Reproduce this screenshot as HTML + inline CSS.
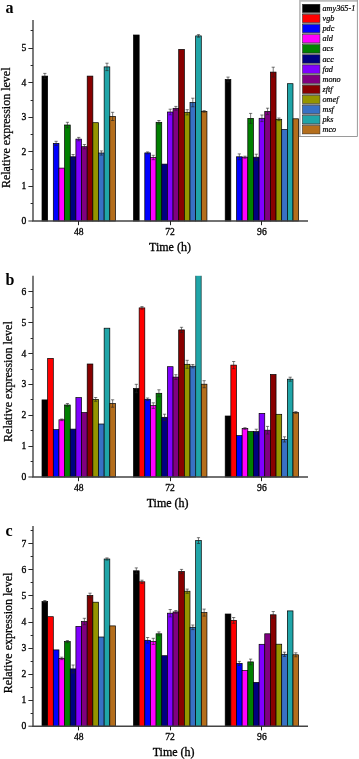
<!DOCTYPE html>
<html><head><meta charset="utf-8"><style>
html,body{margin:0;padding:0;background:#fff;width:359px;height:759px;overflow:hidden}
svg{display:block;will-change:transform}
.t{font-family:"Liberation Serif",serif;font-size:9.6px;fill:#000;stroke:#000;stroke-width:0.3}
.tt{font-family:"Liberation Serif",serif;font-size:12px;fill:#000;stroke:#000;stroke-width:0.3}
.yt{font-family:"Liberation Serif",serif;font-size:12px;fill:#000;stroke:#000;stroke-width:0.25}
.lt{font-family:"Liberation Serif",serif;font-size:16px;font-weight:bold;fill:#000}
.lg{font-family:"Liberation Serif",serif;font-size:8.2px;font-style:italic;fill:#000;stroke:#000;stroke-width:0.2}
</style></head><body>
<svg width="359" height="759" viewBox="0 0 359 759">
<rect width="359" height="759" fill="#fff"/>
<rect x="42.00" y="76.10" width="5.65" height="144.90" fill="#000000" stroke="#000" stroke-width="0.7"/>
<path d="M44.83 78.80V73.40M43.23 73.40H46.43M43.23 78.80H46.43" stroke="#222" stroke-width="0.6" fill="none"/>
<rect x="53.30" y="143.40" width="5.65" height="77.60" fill="#0000ff" stroke="#000" stroke-width="0.7"/>
<path d="M56.12 145.50V141.30M54.52 141.30H57.73M54.52 145.50H57.73" stroke="#222" stroke-width="0.6" fill="none"/>
<rect x="58.95" y="168.10" width="5.65" height="52.90" fill="#ff00ff" stroke="#000" stroke-width="0.7"/>
<rect x="64.60" y="125.00" width="5.65" height="96.00" fill="#008000" stroke="#000" stroke-width="0.7"/>
<path d="M67.42 127.70V122.30M65.83 122.30H69.02M65.83 127.70H69.02" stroke="#222" stroke-width="0.6" fill="none"/>
<rect x="70.25" y="156.80" width="5.65" height="64.20" fill="#000080" stroke="#000" stroke-width="0.7"/>
<path d="M73.08 159.10V154.50M71.48 154.50H74.67M71.48 159.10H74.67" stroke="#222" stroke-width="0.6" fill="none"/>
<rect x="75.90" y="139.10" width="5.65" height="81.90" fill="#8000ff" stroke="#000" stroke-width="0.7"/>
<path d="M78.73 140.80V137.40M77.13 137.40H80.33M77.13 140.80H80.33" stroke="#222" stroke-width="0.6" fill="none"/>
<rect x="81.55" y="146.70" width="5.65" height="74.30" fill="#800080" stroke="#000" stroke-width="0.7"/>
<path d="M84.38 148.90V144.50M82.78 144.50H85.98M82.78 148.90H85.98" stroke="#222" stroke-width="0.6" fill="none"/>
<rect x="87.20" y="76.10" width="5.65" height="144.90" fill="#880000" stroke="#000" stroke-width="0.7"/>
<rect x="92.85" y="122.70" width="5.65" height="98.30" fill="#959500" stroke="#000" stroke-width="0.7"/>
<rect x="98.50" y="153.00" width="5.65" height="68.00" fill="#3871c4" stroke="#000" stroke-width="0.7"/>
<path d="M101.33 155.10V150.90M99.73 150.90H102.92M99.73 155.10H102.92" stroke="#222" stroke-width="0.6" fill="none"/>
<rect x="104.15" y="66.90" width="5.65" height="154.10" fill="#20a5a8" stroke="#000" stroke-width="0.7"/>
<path d="M106.98 70.60V63.20M105.38 63.20H108.58M105.38 70.60H108.58" stroke="#222" stroke-width="0.6" fill="none"/>
<rect x="109.80" y="116.40" width="5.65" height="104.60" fill="#b46e1c" stroke="#000" stroke-width="0.7"/>
<path d="M112.63 120.50V112.30M111.03 112.30H114.23M111.03 120.50H114.23" stroke="#222" stroke-width="0.6" fill="none"/>
<rect x="133.50" y="35.00" width="5.65" height="186.00" fill="#000000" stroke="#000" stroke-width="0.7"/>
<rect x="144.80" y="152.90" width="5.65" height="68.10" fill="#0000ff" stroke="#000" stroke-width="0.7"/>
<path d="M147.62 153.90V151.90M146.03 151.90H149.22M146.03 153.90H149.22" stroke="#222" stroke-width="0.6" fill="none"/>
<rect x="150.45" y="157.50" width="5.65" height="63.50" fill="#ff00ff" stroke="#000" stroke-width="0.7"/>
<path d="M153.27 159.70V155.30M151.67 155.30H154.87M151.67 159.70H154.87" stroke="#222" stroke-width="0.6" fill="none"/>
<rect x="156.10" y="122.30" width="5.65" height="98.70" fill="#008000" stroke="#000" stroke-width="0.7"/>
<path d="M158.92 124.10V120.50M157.32 120.50H160.52M157.32 124.10H160.52" stroke="#222" stroke-width="0.6" fill="none"/>
<rect x="161.75" y="164.10" width="5.65" height="56.90" fill="#000080" stroke="#000" stroke-width="0.7"/>
<rect x="167.40" y="112.00" width="5.65" height="109.00" fill="#8000ff" stroke="#000" stroke-width="0.7"/>
<path d="M170.22 114.80V109.20M168.62 109.20H171.82M168.62 114.80H171.82" stroke="#222" stroke-width="0.6" fill="none"/>
<rect x="173.05" y="108.30" width="5.65" height="112.70" fill="#800080" stroke="#000" stroke-width="0.7"/>
<path d="M175.88 110.20V106.40M174.28 106.40H177.47M174.28 110.20H177.47" stroke="#222" stroke-width="0.6" fill="none"/>
<rect x="178.70" y="49.40" width="5.65" height="171.60" fill="#880000" stroke="#000" stroke-width="0.7"/>
<rect x="184.35" y="112.30" width="5.65" height="108.70" fill="#959500" stroke="#000" stroke-width="0.7"/>
<path d="M187.17 114.90V109.70M185.57 109.70H188.77M185.57 114.90H188.77" stroke="#222" stroke-width="0.6" fill="none"/>
<rect x="190.00" y="102.50" width="5.65" height="118.50" fill="#3871c4" stroke="#000" stroke-width="0.7"/>
<path d="M192.82 106.80V98.20M191.22 98.20H194.42M191.22 106.80H194.42" stroke="#222" stroke-width="0.6" fill="none"/>
<rect x="195.65" y="35.90" width="5.65" height="185.10" fill="#20a5a8" stroke="#000" stroke-width="0.7"/>
<path d="M198.47 37.20V34.60M196.88 34.60H200.07M196.88 37.20H200.07" stroke="#222" stroke-width="0.6" fill="none"/>
<rect x="201.30" y="111.40" width="5.65" height="109.60" fill="#b46e1c" stroke="#000" stroke-width="0.7"/>
<path d="M204.12 112.20V110.60M202.53 110.60H205.72M202.53 112.20H205.72" stroke="#222" stroke-width="0.6" fill="none"/>
<rect x="225.20" y="79.50" width="5.65" height="141.50" fill="#000000" stroke="#000" stroke-width="0.7"/>
<path d="M228.02 81.90V77.10M226.42 77.10H229.62M226.42 81.90H229.62" stroke="#222" stroke-width="0.6" fill="none"/>
<rect x="236.50" y="156.80" width="5.65" height="64.20" fill="#0000ff" stroke="#000" stroke-width="0.7"/>
<path d="M239.32 159.70V153.90M237.72 153.90H240.92M237.72 159.70H240.92" stroke="#222" stroke-width="0.6" fill="none"/>
<rect x="242.15" y="157.20" width="5.65" height="63.80" fill="#ff00ff" stroke="#000" stroke-width="0.7"/>
<path d="M244.97 158.20V156.20M243.37 156.20H246.57M243.37 158.20H246.57" stroke="#222" stroke-width="0.6" fill="none"/>
<rect x="247.80" y="118.40" width="5.65" height="102.60" fill="#008000" stroke="#000" stroke-width="0.7"/>
<path d="M250.62 123.40V113.40M249.02 113.40H252.22M249.02 123.40H252.22" stroke="#222" stroke-width="0.6" fill="none"/>
<rect x="253.45" y="157.20" width="5.65" height="63.80" fill="#000080" stroke="#000" stroke-width="0.7"/>
<path d="M256.27 160.20V154.20M254.67 154.20H257.88M254.67 160.20H257.88" stroke="#222" stroke-width="0.6" fill="none"/>
<rect x="259.10" y="118.30" width="5.65" height="102.70" fill="#8000ff" stroke="#000" stroke-width="0.7"/>
<path d="M261.93 121.60V115.00M260.32 115.00H263.53M260.32 121.60H263.53" stroke="#222" stroke-width="0.6" fill="none"/>
<rect x="264.75" y="111.40" width="5.65" height="109.60" fill="#800080" stroke="#000" stroke-width="0.7"/>
<path d="M267.57 114.60V108.20M265.97 108.20H269.18M265.97 114.60H269.18" stroke="#222" stroke-width="0.6" fill="none"/>
<rect x="270.40" y="72.10" width="5.65" height="148.90" fill="#880000" stroke="#000" stroke-width="0.7"/>
<path d="M273.22 77.00V67.20M271.62 67.20H274.82M271.62 77.00H274.82" stroke="#222" stroke-width="0.6" fill="none"/>
<rect x="276.05" y="119.30" width="5.65" height="101.70" fill="#959500" stroke="#000" stroke-width="0.7"/>
<path d="M278.88 120.60V118.00M277.27 118.00H280.48M277.27 120.60H280.48" stroke="#222" stroke-width="0.6" fill="none"/>
<rect x="281.70" y="129.40" width="5.65" height="91.60" fill="#3871c4" stroke="#000" stroke-width="0.7"/>
<rect x="287.35" y="83.70" width="5.65" height="137.30" fill="#20a5a8" stroke="#000" stroke-width="0.7"/>
<rect x="293.00" y="118.80" width="5.65" height="102.20" fill="#b46e1c" stroke="#000" stroke-width="0.7"/>
<path d="M33.0 20.0V221.0H308.0" stroke="#444" stroke-width="1.4" fill="none"/>
<path d="M28.4 221.00H33.0" stroke="#2a2a2a" stroke-width="1"/>
<text x="26.2" y="224.00" text-anchor="end" class="t">0</text>
<path d="M30.6 203.50H33.0" stroke="#2a2a2a" stroke-width="1"/>
<path d="M28.4 186.50H33.0" stroke="#2a2a2a" stroke-width="1"/>
<text x="26.2" y="189.44" text-anchor="end" class="t">1</text>
<path d="M30.6 169.50H33.0" stroke="#2a2a2a" stroke-width="1"/>
<path d="M28.4 151.50H33.0" stroke="#2a2a2a" stroke-width="1"/>
<text x="26.2" y="154.88" text-anchor="end" class="t">2</text>
<path d="M30.6 134.50H33.0" stroke="#2a2a2a" stroke-width="1"/>
<path d="M28.4 117.50H33.0" stroke="#2a2a2a" stroke-width="1"/>
<text x="26.2" y="120.32" text-anchor="end" class="t">3</text>
<path d="M30.6 100.50H33.0" stroke="#2a2a2a" stroke-width="1"/>
<path d="M28.4 82.50H33.0" stroke="#2a2a2a" stroke-width="1"/>
<text x="26.2" y="85.76" text-anchor="end" class="t">4</text>
<path d="M30.6 65.50H33.0" stroke="#2a2a2a" stroke-width="1"/>
<path d="M28.4 48.50H33.0" stroke="#2a2a2a" stroke-width="1"/>
<text x="26.2" y="51.20" text-anchor="end" class="t">5</text>
<path d="M30.6 30.50H33.0" stroke="#2a2a2a" stroke-width="1"/>
<path d="M78.5 221.0V225.2" stroke="#222" stroke-width="1"/>
<text x="78.7" y="235.00" text-anchor="middle" class="t">48</text>
<path d="M170.5 221.0V225.2" stroke="#222" stroke-width="1"/>
<text x="170.1" y="235.00" text-anchor="middle" class="t">72</text>
<path d="M261.5 221.0V225.2" stroke="#222" stroke-width="1"/>
<text x="261.9" y="235.00" text-anchor="middle" class="t">96</text>
<text x="170" y="251" text-anchor="middle" class="tt">Time (h)</text>
<text transform="translate(9.6 127.8) rotate(-90)" text-anchor="middle" class="yt">Relative expression level</text>
<text x="5.6" y="12.9" class="lt">a</text>
<rect x="42.00" y="399.90" width="5.65" height="77.10" fill="#000000" stroke="#000" stroke-width="0.7"/>
<rect x="47.65" y="358.40" width="5.65" height="118.60" fill="#ff0000" stroke="#000" stroke-width="0.7"/>
<rect x="53.30" y="429.60" width="5.65" height="47.40" fill="#0000ff" stroke="#000" stroke-width="0.7"/>
<rect x="58.95" y="419.80" width="5.65" height="57.20" fill="#ff00ff" stroke="#000" stroke-width="0.7"/>
<path d="M61.78 420.60V419.00M60.18 419.00H63.38M60.18 420.60H63.38" stroke="#222" stroke-width="0.6" fill="none"/>
<rect x="64.60" y="405.00" width="5.65" height="72.00" fill="#008000" stroke="#000" stroke-width="0.7"/>
<path d="M67.42 406.50V403.50M65.83 403.50H69.02M65.83 406.50H69.02" stroke="#222" stroke-width="0.6" fill="none"/>
<rect x="70.25" y="429.10" width="5.65" height="47.90" fill="#000080" stroke="#000" stroke-width="0.7"/>
<rect x="75.90" y="397.60" width="5.65" height="79.40" fill="#8000ff" stroke="#000" stroke-width="0.7"/>
<rect x="81.55" y="412.50" width="5.65" height="64.50" fill="#800080" stroke="#000" stroke-width="0.7"/>
<rect x="87.20" y="364.00" width="5.65" height="113.00" fill="#880000" stroke="#000" stroke-width="0.7"/>
<rect x="92.85" y="399.40" width="5.65" height="77.60" fill="#959500" stroke="#000" stroke-width="0.7"/>
<path d="M95.67 401.30V397.50M94.08 397.50H97.27M94.08 401.30H97.27" stroke="#222" stroke-width="0.6" fill="none"/>
<rect x="98.50" y="424.00" width="5.65" height="53.00" fill="#3871c4" stroke="#000" stroke-width="0.7"/>
<rect x="104.15" y="328.20" width="5.65" height="148.80" fill="#20a5a8" stroke="#000" stroke-width="0.7"/>
<rect x="109.80" y="403.50" width="5.65" height="73.50" fill="#b46e1c" stroke="#000" stroke-width="0.7"/>
<path d="M112.63 407.20V399.80M111.03 399.80H114.23M111.03 407.20H114.23" stroke="#222" stroke-width="0.6" fill="none"/>
<rect x="133.50" y="388.50" width="5.65" height="88.50" fill="#000000" stroke="#000" stroke-width="0.7"/>
<path d="M136.32 392.70V384.30M134.72 384.30H137.92M134.72 392.70H137.92" stroke="#222" stroke-width="0.6" fill="none"/>
<rect x="139.15" y="307.90" width="5.65" height="169.10" fill="#ff0000" stroke="#000" stroke-width="0.7"/>
<path d="M141.97 309.20V306.60M140.38 306.60H143.57M140.38 309.20H143.57" stroke="#222" stroke-width="0.6" fill="none"/>
<rect x="144.80" y="399.30" width="5.65" height="77.70" fill="#0000ff" stroke="#000" stroke-width="0.7"/>
<path d="M147.62 400.60V398.00M146.03 398.00H149.22M146.03 400.60H149.22" stroke="#222" stroke-width="0.6" fill="none"/>
<rect x="150.45" y="405.60" width="5.65" height="71.40" fill="#ff00ff" stroke="#000" stroke-width="0.7"/>
<path d="M153.27 408.40V402.80M151.67 402.80H154.87M151.67 408.40H154.87" stroke="#222" stroke-width="0.6" fill="none"/>
<rect x="156.10" y="393.30" width="5.65" height="83.70" fill="#008000" stroke="#000" stroke-width="0.7"/>
<path d="M158.92 396.80V389.80M157.32 389.80H160.52M157.32 396.80H160.52" stroke="#222" stroke-width="0.6" fill="none"/>
<rect x="161.75" y="417.30" width="5.65" height="59.70" fill="#000080" stroke="#000" stroke-width="0.7"/>
<path d="M164.57 420.40V414.20M162.97 414.20H166.17M162.97 420.40H166.17" stroke="#222" stroke-width="0.6" fill="none"/>
<rect x="167.40" y="366.70" width="5.65" height="110.30" fill="#8000ff" stroke="#000" stroke-width="0.7"/>
<rect x="173.05" y="377.10" width="5.65" height="99.90" fill="#800080" stroke="#000" stroke-width="0.7"/>
<path d="M175.88 379.50V374.70M174.28 374.70H177.47M174.28 379.50H177.47" stroke="#222" stroke-width="0.6" fill="none"/>
<rect x="178.70" y="329.90" width="5.65" height="147.10" fill="#880000" stroke="#000" stroke-width="0.7"/>
<path d="M181.52 332.50V327.30M179.92 327.30H183.12M179.92 332.50H183.12" stroke="#222" stroke-width="0.6" fill="none"/>
<rect x="184.35" y="364.30" width="5.65" height="112.70" fill="#959500" stroke="#000" stroke-width="0.7"/>
<path d="M187.17 368.30V360.30M185.57 360.30H188.77M185.57 368.30H188.77" stroke="#222" stroke-width="0.6" fill="none"/>
<rect x="190.00" y="366.20" width="5.65" height="110.80" fill="#3871c4" stroke="#000" stroke-width="0.7"/>
<path d="M192.82 367.90V364.50M191.22 364.50H194.42M191.22 367.90H194.42" stroke="#222" stroke-width="0.6" fill="none"/>
<rect x="195.65" y="275.80" width="5.65" height="201.20" fill="#20a5a8"/>
<path d="M195.65 275.80V477.0M201.30 275.80V477.0" stroke="#000" stroke-width="0.5"/>
<rect x="201.30" y="384.20" width="5.65" height="92.80" fill="#b46e1c" stroke="#000" stroke-width="0.7"/>
<path d="M204.12 387.70V380.70M202.53 380.70H205.72M202.53 387.70H205.72" stroke="#222" stroke-width="0.6" fill="none"/>
<rect x="225.20" y="416.00" width="5.65" height="61.00" fill="#000000" stroke="#000" stroke-width="0.7"/>
<rect x="230.85" y="365.10" width="5.65" height="111.90" fill="#ff0000" stroke="#000" stroke-width="0.7"/>
<path d="M233.67 368.70V361.50M232.07 361.50H235.27M232.07 368.70H235.27" stroke="#222" stroke-width="0.6" fill="none"/>
<rect x="236.50" y="435.60" width="5.65" height="41.40" fill="#0000ff" stroke="#000" stroke-width="0.7"/>
<rect x="242.15" y="428.50" width="5.65" height="48.50" fill="#ff00ff" stroke="#000" stroke-width="0.7"/>
<path d="M244.97 429.30V427.70M243.37 427.70H246.57M243.37 429.30H246.57" stroke="#222" stroke-width="0.6" fill="none"/>
<rect x="247.80" y="431.60" width="5.65" height="45.40" fill="#008000" stroke="#000" stroke-width="0.7"/>
<rect x="253.45" y="431.60" width="5.65" height="45.40" fill="#000080" stroke="#000" stroke-width="0.7"/>
<path d="M256.27 434.00V429.20M254.67 429.20H257.88M254.67 434.00H257.88" stroke="#222" stroke-width="0.6" fill="none"/>
<rect x="259.10" y="413.40" width="5.65" height="63.60" fill="#8000ff" stroke="#000" stroke-width="0.7"/>
<rect x="264.75" y="430.20" width="5.65" height="46.80" fill="#800080" stroke="#000" stroke-width="0.7"/>
<path d="M267.57 434.00V426.40M265.97 426.40H269.18M265.97 434.00H269.18" stroke="#222" stroke-width="0.6" fill="none"/>
<rect x="270.40" y="374.50" width="5.65" height="102.50" fill="#880000" stroke="#000" stroke-width="0.7"/>
<rect x="276.05" y="414.30" width="5.65" height="62.70" fill="#959500" stroke="#000" stroke-width="0.7"/>
<rect x="281.70" y="439.40" width="5.65" height="37.60" fill="#3871c4" stroke="#000" stroke-width="0.7"/>
<path d="M284.52 442.00V436.80M282.92 436.80H286.12M282.92 442.00H286.12" stroke="#222" stroke-width="0.6" fill="none"/>
<rect x="287.35" y="379.20" width="5.65" height="97.80" fill="#20a5a8" stroke="#000" stroke-width="0.7"/>
<path d="M290.18 381.20V377.20M288.57 377.20H291.78M288.57 381.20H291.78" stroke="#222" stroke-width="0.6" fill="none"/>
<rect x="293.00" y="412.50" width="5.65" height="64.50" fill="#b46e1c" stroke="#000" stroke-width="0.7"/>
<path d="M295.82 413.40V411.60M294.22 411.60H297.43M294.22 413.40H297.43" stroke="#222" stroke-width="0.6" fill="none"/>
<path d="M33.0 275.8V477.0H308.0" stroke="#444" stroke-width="1.4" fill="none"/>
<path d="M28.4 477.00H33.0" stroke="#2a2a2a" stroke-width="1"/>
<text x="26.2" y="480.00" text-anchor="end" class="t">0</text>
<path d="M30.6 461.50H33.0" stroke="#2a2a2a" stroke-width="1"/>
<path d="M28.4 446.50H33.0" stroke="#2a2a2a" stroke-width="1"/>
<text x="26.2" y="449.15" text-anchor="end" class="t">1</text>
<path d="M30.6 430.50H33.0" stroke="#2a2a2a" stroke-width="1"/>
<path d="M28.4 415.50H33.0" stroke="#2a2a2a" stroke-width="1"/>
<text x="26.2" y="418.30" text-anchor="end" class="t">2</text>
<path d="M30.6 399.50H33.0" stroke="#2a2a2a" stroke-width="1"/>
<path d="M28.4 384.50H33.0" stroke="#2a2a2a" stroke-width="1"/>
<text x="26.2" y="387.45" text-anchor="end" class="t">3</text>
<path d="M30.6 369.50H33.0" stroke="#2a2a2a" stroke-width="1"/>
<path d="M28.4 353.50H33.0" stroke="#2a2a2a" stroke-width="1"/>
<text x="26.2" y="356.60" text-anchor="end" class="t">4</text>
<path d="M30.6 338.50H33.0" stroke="#2a2a2a" stroke-width="1"/>
<path d="M28.4 322.50H33.0" stroke="#2a2a2a" stroke-width="1"/>
<text x="26.2" y="325.75" text-anchor="end" class="t">5</text>
<path d="M30.6 307.50H33.0" stroke="#2a2a2a" stroke-width="1"/>
<path d="M28.4 291.50H33.0" stroke="#2a2a2a" stroke-width="1"/>
<text x="26.2" y="294.90" text-anchor="end" class="t">6</text>
<path d="M78.5 477.0V481.2" stroke="#222" stroke-width="1"/>
<text x="78.7" y="491.00" text-anchor="middle" class="t">48</text>
<path d="M170.5 477.0V481.2" stroke="#222" stroke-width="1"/>
<text x="170.1" y="491.00" text-anchor="middle" class="t">72</text>
<path d="M261.5 477.0V481.2" stroke="#222" stroke-width="1"/>
<text x="261.9" y="491.00" text-anchor="middle" class="t">96</text>
<text x="167.6" y="507" text-anchor="middle" class="tt">Time (h)</text>
<text transform="translate(11.6 381.6) rotate(-90)" text-anchor="middle" class="yt">Relative expression level</text>
<text x="5.6" y="284.9" class="lt">b</text>
<rect x="42.00" y="601.60" width="5.65" height="124.60" fill="#000000" stroke="#000" stroke-width="0.7"/>
<path d="M44.83 602.70V600.50M43.23 600.50H46.43M43.23 602.70H46.43" stroke="#222" stroke-width="0.6" fill="none"/>
<rect x="47.65" y="616.70" width="5.65" height="109.50" fill="#ff0000" stroke="#000" stroke-width="0.7"/>
<rect x="53.30" y="649.90" width="5.65" height="76.30" fill="#0000ff" stroke="#000" stroke-width="0.7"/>
<rect x="58.95" y="658.40" width="5.65" height="67.80" fill="#ff00ff" stroke="#000" stroke-width="0.7"/>
<path d="M61.78 659.60V657.20M60.18 657.20H63.38M60.18 659.60H63.38" stroke="#222" stroke-width="0.6" fill="none"/>
<rect x="64.60" y="641.60" width="5.65" height="84.60" fill="#008000" stroke="#000" stroke-width="0.7"/>
<path d="M67.42 642.70V640.50M65.83 640.50H69.02M65.83 642.70H69.02" stroke="#222" stroke-width="0.6" fill="none"/>
<rect x="70.25" y="668.90" width="5.65" height="57.30" fill="#000080" stroke="#000" stroke-width="0.7"/>
<path d="M73.08 672.80V665.00M71.48 665.00H74.67M71.48 672.80H74.67" stroke="#222" stroke-width="0.6" fill="none"/>
<rect x="75.90" y="626.40" width="5.65" height="99.80" fill="#8000ff" stroke="#000" stroke-width="0.7"/>
<rect x="81.55" y="621.50" width="5.65" height="104.70" fill="#800080" stroke="#000" stroke-width="0.7"/>
<path d="M84.38 624.70V618.30M82.78 618.30H85.98M82.78 624.70H85.98" stroke="#222" stroke-width="0.6" fill="none"/>
<rect x="87.20" y="595.50" width="5.65" height="130.70" fill="#880000" stroke="#000" stroke-width="0.7"/>
<path d="M90.03 597.80V593.20M88.43 593.20H91.62M88.43 597.80H91.62" stroke="#222" stroke-width="0.6" fill="none"/>
<rect x="92.85" y="602.20" width="5.65" height="124.00" fill="#959500" stroke="#000" stroke-width="0.7"/>
<rect x="98.50" y="637.00" width="5.65" height="89.20" fill="#3871c4" stroke="#000" stroke-width="0.7"/>
<rect x="104.15" y="559.00" width="5.65" height="167.20" fill="#20a5a8" stroke="#000" stroke-width="0.7"/>
<path d="M106.98 560.10V557.90M105.38 557.90H108.58M105.38 560.10H108.58" stroke="#222" stroke-width="0.6" fill="none"/>
<rect x="109.80" y="625.90" width="5.65" height="100.30" fill="#b46e1c" stroke="#000" stroke-width="0.7"/>
<rect x="133.50" y="570.80" width="5.65" height="155.40" fill="#000000" stroke="#000" stroke-width="0.7"/>
<path d="M136.32 573.70V567.90M134.72 567.90H137.92M134.72 573.70H137.92" stroke="#222" stroke-width="0.6" fill="none"/>
<rect x="139.15" y="581.80" width="5.65" height="144.40" fill="#ff0000" stroke="#000" stroke-width="0.7"/>
<path d="M141.97 583.40V580.20M140.38 580.20H143.57M140.38 583.40H143.57" stroke="#222" stroke-width="0.6" fill="none"/>
<rect x="144.80" y="640.30" width="5.65" height="85.90" fill="#0000ff" stroke="#000" stroke-width="0.7"/>
<path d="M147.62 643.10V637.50M146.03 637.50H149.22M146.03 643.10H149.22" stroke="#222" stroke-width="0.6" fill="none"/>
<rect x="150.45" y="641.40" width="5.65" height="84.80" fill="#ff00ff" stroke="#000" stroke-width="0.7"/>
<path d="M153.27 644.50V638.30M151.67 638.30H154.87M151.67 644.50H154.87" stroke="#222" stroke-width="0.6" fill="none"/>
<rect x="156.10" y="633.80" width="5.65" height="92.40" fill="#008000" stroke="#000" stroke-width="0.7"/>
<path d="M158.92 635.70V631.90M157.32 631.90H160.52M157.32 635.70H160.52" stroke="#222" stroke-width="0.6" fill="none"/>
<rect x="161.75" y="655.70" width="5.65" height="70.50" fill="#000080" stroke="#000" stroke-width="0.7"/>
<rect x="167.40" y="613.20" width="5.65" height="113.00" fill="#8000ff" stroke="#000" stroke-width="0.7"/>
<path d="M170.22 616.90V609.50M168.62 609.50H171.82M168.62 616.90H171.82" stroke="#222" stroke-width="0.6" fill="none"/>
<rect x="173.05" y="611.90" width="5.65" height="114.30" fill="#800080" stroke="#000" stroke-width="0.7"/>
<path d="M175.88 613.30V610.50M174.28 610.50H177.47M174.28 613.30H177.47" stroke="#222" stroke-width="0.6" fill="none"/>
<rect x="178.70" y="571.50" width="5.65" height="154.70" fill="#880000" stroke="#000" stroke-width="0.7"/>
<path d="M181.52 573.60V569.40M179.92 569.40H183.12M179.92 573.60H183.12" stroke="#222" stroke-width="0.6" fill="none"/>
<rect x="184.35" y="591.20" width="5.65" height="135.00" fill="#959500" stroke="#000" stroke-width="0.7"/>
<path d="M187.17 593.30V589.10M185.57 589.10H188.77M185.57 593.30H188.77" stroke="#222" stroke-width="0.6" fill="none"/>
<rect x="190.00" y="627.30" width="5.65" height="98.90" fill="#3871c4" stroke="#000" stroke-width="0.7"/>
<path d="M192.82 629.60V625.00M191.22 625.00H194.42M191.22 629.60H194.42" stroke="#222" stroke-width="0.6" fill="none"/>
<rect x="195.65" y="540.60" width="5.65" height="185.60" fill="#20a5a8" stroke="#000" stroke-width="0.7"/>
<path d="M198.47 543.50V537.70M196.88 537.70H200.07M196.88 543.50H200.07" stroke="#222" stroke-width="0.6" fill="none"/>
<rect x="201.30" y="612.60" width="5.65" height="113.60" fill="#b46e1c" stroke="#000" stroke-width="0.7"/>
<path d="M204.12 616.10V609.10M202.53 609.10H205.72M202.53 616.10H205.72" stroke="#222" stroke-width="0.6" fill="none"/>
<rect x="225.20" y="614.00" width="5.65" height="112.20" fill="#000000" stroke="#000" stroke-width="0.7"/>
<rect x="230.85" y="620.40" width="5.65" height="105.80" fill="#ff0000" stroke="#000" stroke-width="0.7"/>
<path d="M233.67 623.30V617.50M232.07 617.50H235.27M232.07 623.30H235.27" stroke="#222" stroke-width="0.6" fill="none"/>
<rect x="236.50" y="663.40" width="5.65" height="62.80" fill="#0000ff" stroke="#000" stroke-width="0.7"/>
<path d="M239.32 665.40V661.40M237.72 661.40H240.92M237.72 665.40H240.92" stroke="#222" stroke-width="0.6" fill="none"/>
<rect x="242.15" y="670.60" width="5.65" height="55.60" fill="#ff00ff" stroke="#000" stroke-width="0.7"/>
<rect x="247.80" y="661.90" width="5.65" height="64.30" fill="#008000" stroke="#000" stroke-width="0.7"/>
<path d="M250.62 664.70V659.10M249.02 659.10H252.22M249.02 664.70H252.22" stroke="#222" stroke-width="0.6" fill="none"/>
<rect x="253.45" y="682.40" width="5.65" height="43.80" fill="#000080" stroke="#000" stroke-width="0.7"/>
<rect x="259.10" y="644.30" width="5.65" height="81.90" fill="#8000ff" stroke="#000" stroke-width="0.7"/>
<rect x="264.75" y="633.80" width="5.65" height="92.40" fill="#800080" stroke="#000" stroke-width="0.7"/>
<rect x="270.40" y="614.80" width="5.65" height="111.40" fill="#880000" stroke="#000" stroke-width="0.7"/>
<path d="M273.22 618.10V611.50M271.62 611.50H274.82M271.62 618.10H274.82" stroke="#222" stroke-width="0.6" fill="none"/>
<rect x="276.05" y="644.20" width="5.65" height="82.00" fill="#959500" stroke="#000" stroke-width="0.7"/>
<rect x="281.70" y="654.30" width="5.65" height="71.90" fill="#3871c4" stroke="#000" stroke-width="0.7"/>
<path d="M284.52 656.40V652.20M282.92 652.20H286.12M282.92 656.40H286.12" stroke="#222" stroke-width="0.6" fill="none"/>
<rect x="287.35" y="610.90" width="5.65" height="115.30" fill="#20a5a8" stroke="#000" stroke-width="0.7"/>
<rect x="293.00" y="654.80" width="5.65" height="71.40" fill="#b46e1c" stroke="#000" stroke-width="0.7"/>
<path d="M295.82 656.80V652.80M294.22 652.80H297.43M294.22 656.80H297.43" stroke="#222" stroke-width="0.6" fill="none"/>
<path d="M33.0 525.9V726.2H308.0" stroke="#444" stroke-width="1.4" fill="none"/>
<path d="M28.4 726.20H33.0" stroke="#2a2a2a" stroke-width="1"/>
<text x="26.2" y="729.20" text-anchor="end" class="t">0</text>
<path d="M30.6 713.50H33.0" stroke="#2a2a2a" stroke-width="1"/>
<path d="M28.4 700.50H33.0" stroke="#2a2a2a" stroke-width="1"/>
<text x="26.2" y="703.15" text-anchor="end" class="t">1</text>
<path d="M30.6 687.50H33.0" stroke="#2a2a2a" stroke-width="1"/>
<path d="M28.4 674.50H33.0" stroke="#2a2a2a" stroke-width="1"/>
<text x="26.2" y="677.10" text-anchor="end" class="t">2</text>
<path d="M30.6 661.50H33.0" stroke="#2a2a2a" stroke-width="1"/>
<path d="M28.4 648.50H33.0" stroke="#2a2a2a" stroke-width="1"/>
<text x="26.2" y="651.05" text-anchor="end" class="t">3</text>
<path d="M30.6 635.50H33.0" stroke="#2a2a2a" stroke-width="1"/>
<path d="M28.4 622.50H33.0" stroke="#2a2a2a" stroke-width="1"/>
<text x="26.2" y="625.00" text-anchor="end" class="t">4</text>
<path d="M30.6 608.50H33.0" stroke="#2a2a2a" stroke-width="1"/>
<path d="M28.4 595.50H33.0" stroke="#2a2a2a" stroke-width="1"/>
<text x="26.2" y="598.95" text-anchor="end" class="t">5</text>
<path d="M30.6 582.50H33.0" stroke="#2a2a2a" stroke-width="1"/>
<path d="M28.4 569.50H33.0" stroke="#2a2a2a" stroke-width="1"/>
<text x="26.2" y="572.90" text-anchor="end" class="t">6</text>
<path d="M30.6 556.50H33.0" stroke="#2a2a2a" stroke-width="1"/>
<path d="M28.4 543.50H33.0" stroke="#2a2a2a" stroke-width="1"/>
<text x="26.2" y="546.85" text-anchor="end" class="t">7</text>
<path d="M30.6 530.50H33.0" stroke="#2a2a2a" stroke-width="1"/>
<path d="M78.5 726.2V730.4000000000001" stroke="#222" stroke-width="1"/>
<text x="78.7" y="740.20" text-anchor="middle" class="t">48</text>
<path d="M170.5 726.2V730.4000000000001" stroke="#222" stroke-width="1"/>
<text x="170.1" y="740.20" text-anchor="middle" class="t">72</text>
<path d="M261.5 726.2V730.4000000000001" stroke="#222" stroke-width="1"/>
<text x="261.9" y="740.20" text-anchor="middle" class="t">96</text>
<text x="173.6" y="756.4" text-anchor="middle" class="tt">Time (h)</text>
<text transform="translate(11.6 633.0) rotate(-90)" text-anchor="middle" class="yt">Relative expression level</text>
<text x="5.6" y="536.2" class="lt">c</text>
<rect x="300" y="0" width="57.9" height="137" fill="#fff"/>
<path d="M299.9 137V0.85H357.9" stroke="#bcbcbc" stroke-width="1.7" fill="none"/>
<path d="M357.4 0V136.5H299" stroke="#9a9a9a" stroke-width="1" fill="none"/>
<rect x="302.2" y="12.75" width="18" height="1.37" fill="#8c8c8c"/>
<rect x="302.45" y="4.25" width="17.5" height="8.25" fill="#000000" stroke="#222" stroke-width="0.5"/>
<text x="322.5" y="10.90" class="lg">amy365-1</text>
<rect x="302.2" y="22.87" width="18" height="1.37" fill="#8c8c8c"/>
<rect x="302.45" y="14.37" width="17.5" height="8.25" fill="#ff0000" stroke="#222" stroke-width="0.5"/>
<text x="322.5" y="21.02" class="lg">vgb</text>
<rect x="302.2" y="32.99" width="18" height="1.37" fill="#8c8c8c"/>
<rect x="302.45" y="24.49" width="17.5" height="8.25" fill="#0000ff" stroke="#222" stroke-width="0.5"/>
<text x="322.5" y="31.14" class="lg">pdc</text>
<rect x="302.2" y="43.11" width="18" height="1.37" fill="#8c8c8c"/>
<rect x="302.45" y="34.61" width="17.5" height="8.25" fill="#ff00ff" stroke="#222" stroke-width="0.5"/>
<text x="322.5" y="41.26" class="lg">ald</text>
<rect x="302.2" y="53.23" width="18" height="1.37" fill="#8c8c8c"/>
<rect x="302.45" y="44.73" width="17.5" height="8.25" fill="#008000" stroke="#222" stroke-width="0.5"/>
<text x="322.5" y="51.38" class="lg">acs</text>
<rect x="302.2" y="63.35" width="18" height="1.37" fill="#8c8c8c"/>
<rect x="302.45" y="54.85" width="17.5" height="8.25" fill="#000080" stroke="#222" stroke-width="0.5"/>
<text x="322.5" y="61.50" class="lg">acc</text>
<rect x="302.2" y="73.47" width="18" height="1.37" fill="#8c8c8c"/>
<rect x="302.45" y="64.97" width="17.5" height="8.25" fill="#8000ff" stroke="#222" stroke-width="0.5"/>
<text x="322.5" y="71.62" class="lg">fad</text>
<rect x="302.2" y="83.59" width="18" height="1.37" fill="#8c8c8c"/>
<rect x="302.45" y="75.09" width="17.5" height="8.25" fill="#800080" stroke="#222" stroke-width="0.5"/>
<text x="322.5" y="81.74" class="lg">mono</text>
<rect x="302.2" y="93.71" width="18" height="1.37" fill="#8c8c8c"/>
<rect x="302.45" y="85.21" width="17.5" height="8.25" fill="#880000" stroke="#222" stroke-width="0.5"/>
<text x="322.5" y="91.86" class="lg">zftf</text>
<rect x="302.2" y="103.83" width="18" height="1.37" fill="#8c8c8c"/>
<rect x="302.45" y="95.33" width="17.5" height="8.25" fill="#959500" stroke="#222" stroke-width="0.5"/>
<text x="322.5" y="101.98" class="lg">omef</text>
<rect x="302.2" y="113.95" width="18" height="1.37" fill="#8c8c8c"/>
<rect x="302.45" y="105.45" width="17.5" height="8.25" fill="#3871c4" stroke="#222" stroke-width="0.5"/>
<text x="322.5" y="112.10" class="lg">msf</text>
<rect x="302.2" y="124.07" width="18" height="1.37" fill="#8c8c8c"/>
<rect x="302.45" y="115.57" width="17.5" height="8.25" fill="#20a5a8" stroke="#222" stroke-width="0.5"/>
<text x="322.5" y="122.22" class="lg">pks</text>
<rect x="302.45" y="125.69" width="17.5" height="8.25" fill="#b46e1c" stroke="#222" stroke-width="0.5"/>
<text x="322.5" y="132.34" class="lg">mco</text>
</svg>
</body></html>
